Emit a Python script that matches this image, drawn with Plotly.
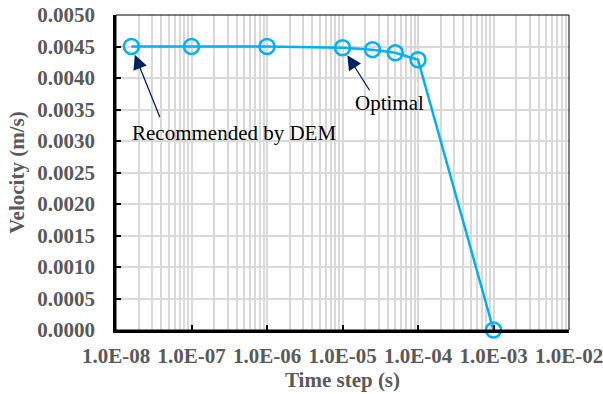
import math
import plotly.graph_objects as go

time_step = [1.6e-08, 1e-07, 1e-06, 1e-05, 2.5e-05, 5e-05, 1e-04, 1e-03]
velocity = [0.00450, 0.00450, 0.00450, 0.00448, 0.00445, 0.00440, 0.00429, 0.0]

x_tickvals = [1e-08, 1e-07, 1e-06, 1e-05, 1e-04, 1e-03, 1e-02]
x_ticktext = ["1.0E-08", "1.0E-07", "1.0E-06", "1.0E-05", "1.0E-04", "1.0E-03", "1.0E-02"]
y_tickvals = [0.0, 0.0005, 0.0010, 0.0015, 0.0020, 0.0025, 0.0030, 0.0035, 0.0040, 0.0045, 0.0050]
y_ticktext = ["0.0000", "0.0005", "0.0010", "0.0015", "0.0020", "0.0025",
              "0.0030", "0.0035", "0.0040", "0.0045", "0.0050"]
minor_vals = [k * d for d in x_tickvals[:-1] for k in range(2, 10)]

LINE = "#00B0F0"
ARROW = "#002060"
GRID = "#D9D9D9"
TICKC = "#595959"
FONT = "Liberation Serif"
FS = 21

fig = go.Figure()
fig.add_trace(go.Scatter(
    x=time_step, y=velocity, mode="lines+markers",
    line=dict(color=LINE, width=2.5),
    marker=dict(symbol="circle-open", size=15, color=LINE, line=dict(width=2.5, color=LINE)),
    cliponaxis=False, showlegend=False,
))

fig.update_layout(
    width=603, height=394,
    margin=dict(l=116, r=34, t=15, b=64),
    paper_bgcolor="white", plot_bgcolor="white",
    font=dict(family=FONT, color=TICKC),
)
fig.update_xaxes(
    type="log", range=[-8, -2], automargin=False, ticklabeloverflow="allow",
    tickvals=x_tickvals, ticktext=x_ticktext,
    tickfont=dict(family=FONT, size=FS, color=TICKC, weight="bold"),
    ticks="inside", ticklen=5, tickwidth=1.5, tickcolor="black",
    showgrid=True, gridcolor=GRID, gridwidth=1.5,
    minor=dict(tickvals=minor_vals, showgrid=True, gridcolor=GRID, gridwidth=1.5, ticks=""),
    showline=True, linecolor="black", linewidth=2.5,
    title=dict(text="Time step (s)", font=dict(family=FONT, size=FS, color=TICKC, weight="bold"), standoff=3),
    ticklabelstandoff=5,
    zeroline=False,
)
fig.update_yaxes(
    range=[0, 0.005], automargin=False, ticklabeloverflow="allow",
    tickvals=y_tickvals, ticktext=y_ticktext,
    tickfont=dict(family=FONT, size=FS, color=TICKC, weight="bold"),
    ticks="inside", ticklen=5, tickwidth=1.5, tickcolor="black",
    showgrid=True, gridcolor=GRID, gridwidth=1.5,
    showline=True, linecolor="black", linewidth=2.5,
    title=dict(text="Velocity (m/s)", font=dict(family=FONT, size=FS, color=TICKC, weight="bold"), standoff=7),
    ticklabelstandoff=14,
    zeroline=False,
)

# thin top/right border
fig.add_shape(type="rect", xref="paper", yref="paper", x0=0, x1=1, y0=0, y1=1,
              line=dict(color="black", width=1), fillcolor="rgba(0,0,0,0)", layer="above")

# arrows
fig.add_annotation(x=math.log10(time_step[0]), y=velocity[0], xref="x", yref="y",
                   ax=29, ay=72, showarrow=True, arrowhead=2, arrowsize=2.2, arrowwidth=1.3,
                   arrowcolor=ARROW, standoff=9, text="")
fig.add_annotation(x=math.log10(time_step[3]), y=velocity[3], xref="x", yref="y",
                   ax=28, ay=44, showarrow=True, arrowhead=2, arrowsize=2.2, arrowwidth=1.3,
                   arrowcolor=ARROW, standoff=9, text="")
# labels
fig.add_annotation(x=-6.44, y=0.00313, xref="x", yref="y", showarrow=False,
                   text="Recommended by DEM", font=dict(family=FONT, size=21, color="black"))
fig.add_annotation(x=-4.384, y=0.00360, xref="x", yref="y", showarrow=False,
                   text="Optimal", font=dict(family=FONT, size=21, color="black"))

# remove the default 8px page margin so the 603x394 figure fills the window exactly
fig.write_html("out.html", config={"displayModeBar": False},
               post_script="document.body.style.margin='0';")
